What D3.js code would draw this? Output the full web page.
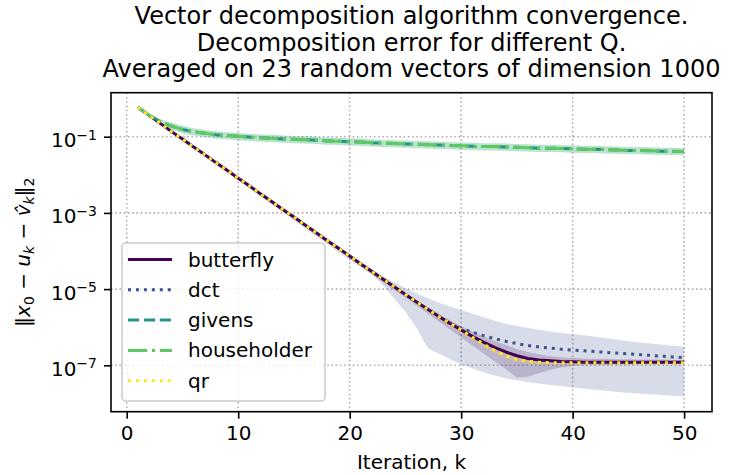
<!DOCTYPE html>
<html>
<head>
<meta charset="utf-8">
<script src="https://cdn.jsdelivr.net/npm/d3@7"></script>
<style>
body { margin:0; background:#fff; }
svg text { font-family:"DejaVu Sans"; fill:#000; }
</style>
</head>
<body>
<svg id="chart" width="733" height="475"></svg>
<script>
// iterations on the x axis
const iterations = d3.range(1, 51);

const butterflyLog = [-0.23,-0.44,-0.65,-0.86,-1.06,-1.27,-1.47,-1.68,-1.88,-2.09,
  -2.29,-2.50,-2.70,-2.91,-3.11,-3.32,-3.52,-3.73,-3.93,-4.13,
  -4.34,-4.54,-4.74,-4.94,-5.14,-5.34,-5.53,-5.72,-5.90,-6.07,
  -6.24,-6.39,-6.53,-6.65,-6.75,-6.82,-6.86,-6.88,-6.90,-6.91,
  -6.92,-6.92,-6.92,-6.92,-6.92,-6.92,-6.92,-6.92,-6.92,-6.92];
const butterflyLow = [-0.24,-0.46,-0.68,-0.89,-1.10,-1.31,-1.51,-1.72,-1.92,-2.13,
  -2.33,-2.54,-2.75,-2.95,-3.16,-3.37,-3.57,-3.78,-3.99,-4.19,
  -4.41,-4.62,-4.83,-5.03,-5.22,-5.43,-5.64,-5.85,-6.06,-6.27,
  -6.48,-6.69,-6.90,-7.10,-7.33,-7.30,-7.20,-7.12,-7.06,-7.02,
  -7.00,-6.99,-6.99,-6.98,-6.98,-6.97,-6.97,-6.97,-6.96,-6.96];
const butterflyHigh = [-0.22,-0.42,-0.63,-0.83,-1.03,-1.24,-1.44,-1.65,-1.85,-2.06,
  -2.26,-2.47,-2.67,-2.88,-3.08,-3.29,-3.49,-3.70,-3.90,-4.10,
  -4.31,-4.51,-4.71,-4.91,-5.10,-5.29,-5.47,-5.65,-5.82,-5.97,
  -6.11,-6.24,-6.36,-6.47,-6.57,-6.65,-6.71,-6.76,-6.79,-6.81,
  -6.82,-6.83,-6.83,-6.84,-6.84,-6.85,-6.85,-6.85,-6.86,-6.86];

const dctLog = [-0.23,-0.44,-0.65,-0.86,-1.06,-1.27,-1.47,-1.68,-1.88,-2.09,
  -2.29,-2.50,-2.70,-2.91,-3.11,-3.32,-3.52,-3.73,-3.93,-4.13,
  -4.34,-4.54,-4.74,-4.94,-5.14,-5.34,-5.53,-5.72,-5.90,-6.03,
  -6.13,-6.22,-6.30,-6.37,-6.43,-6.48,-6.52,-6.55,-6.58,-6.60,
  -6.62,-6.64,-6.66,-6.68,-6.70,-6.72,-6.74,-6.76,-6.78,-6.80];
const dctLow = [-0.24,-0.46,-0.68,-0.89,-1.10,-1.31,-1.51,-1.72,-1.93,-2.14,
  -2.35,-2.56,-2.77,-2.98,-3.19,-3.40,-3.61,-3.82,-4.03,-4.24,
  -4.42,-4.62,-4.90,-5.25,-5.60,-6.02,-6.55,-6.70,-6.84,-6.98,
  -7.08,-7.18,-7.27,-7.34,-7.40,-7.44,-7.48,-7.52,-7.55,-7.58,
  -7.61,-7.64,-7.67,-7.70,-7.72,-7.74,-7.76,-7.78,-7.80,-7.82];
const dctHigh = [-0.22,-0.42,-0.63,-0.83,-1.03,-1.24,-1.44,-1.65,-1.85,-2.06,
  -2.26,-2.47,-2.67,-2.88,-3.08,-3.29,-3.49,-3.69,-3.89,-4.09,
  -4.29,-4.48,-4.66,-4.82,-4.97,-5.11,-5.24,-5.36,-5.46,-5.55,
  -5.64,-5.74,-5.83,-5.91,-5.97,-6.02,-6.07,-6.11,-6.15,-6.18,
  -6.21,-6.25,-6.29,-6.33,-6.37,-6.40,-6.43,-6.46,-6.49,-6.51];

const givensLog = [-0.23,-0.43,-0.60,-0.72,-0.81,-0.87,-0.91,-0.95,-0.97,-0.99,
  -1.01,-1.03,-1.04,-1.06,-1.07,-1.08,-1.09,-1.11,-1.12,-1.13,
  -1.14,-1.16,-1.17,-1.18,-1.19,-1.20,-1.21,-1.22,-1.23,-1.24,
  -1.25,-1.26,-1.26,-1.27,-1.28,-1.29,-1.30,-1.30,-1.31,-1.32,
  -1.33,-1.33,-1.34,-1.35,-1.36,-1.36,-1.37,-1.38,-1.38,-1.39];
const givensLow = [-0.23,-0.46,-0.66,-0.81,-0.91,-0.97,-1.01,-1.05,-1.07,-1.09,
  -1.11,-1.13,-1.14,-1.16,-1.17,-1.18,-1.19,-1.21,-1.22,-1.23,
  -1.24,-1.26,-1.27,-1.28,-1.29,-1.30,-1.31,-1.32,-1.33,-1.34,
  -1.35,-1.36,-1.36,-1.37,-1.38,-1.39,-1.40,-1.40,-1.41,-1.42,
  -1.43,-1.43,-1.44,-1.45,-1.46,-1.46,-1.47,-1.48,-1.48,-1.49];
const givensHigh = [-0.23,-0.40,-0.54,-0.63,-0.71,-0.78,-0.82,-0.86,-0.88,-0.90,
  -0.92,-0.94,-0.95,-0.97,-0.98,-0.99,-1.00,-1.02,-1.03,-1.04,
  -1.05,-1.07,-1.08,-1.09,-1.10,-1.11,-1.12,-1.13,-1.14,-1.15,
  -1.16,-1.17,-1.17,-1.18,-1.19,-1.20,-1.21,-1.21,-1.22,-1.23,
  -1.24,-1.24,-1.25,-1.26,-1.27,-1.27,-1.28,-1.29,-1.29,-1.30];

const householderLog = [-0.23,-0.43,-0.60,-0.72,-0.81,-0.87,-0.91,-0.95,-0.97,-0.99,
  -1.01,-1.03,-1.04,-1.06,-1.07,-1.08,-1.09,-1.11,-1.12,-1.13,
  -1.14,-1.16,-1.17,-1.18,-1.19,-1.20,-1.21,-1.22,-1.23,-1.24,
  -1.25,-1.26,-1.26,-1.27,-1.28,-1.29,-1.30,-1.30,-1.31,-1.32,
  -1.33,-1.33,-1.34,-1.35,-1.36,-1.36,-1.37,-1.38,-1.38,-1.39];
const householderLow = [-0.23,-0.46,-0.66,-0.81,-0.91,-0.97,-1.01,-1.05,-1.07,-1.09,
  -1.11,-1.13,-1.14,-1.16,-1.17,-1.18,-1.19,-1.21,-1.22,-1.23,
  -1.24,-1.26,-1.27,-1.28,-1.29,-1.30,-1.31,-1.32,-1.33,-1.34,
  -1.35,-1.36,-1.36,-1.37,-1.38,-1.39,-1.40,-1.40,-1.41,-1.42,
  -1.43,-1.43,-1.44,-1.45,-1.46,-1.46,-1.47,-1.48,-1.48,-1.49];
const householderHigh = [-0.23,-0.40,-0.54,-0.63,-0.71,-0.78,-0.82,-0.86,-0.88,-0.90,
  -0.92,-0.94,-0.95,-0.97,-0.98,-0.99,-1.00,-1.02,-1.03,-1.04,
  -1.05,-1.07,-1.08,-1.09,-1.10,-1.11,-1.12,-1.13,-1.14,-1.15,
  -1.16,-1.17,-1.17,-1.18,-1.19,-1.20,-1.21,-1.21,-1.22,-1.23,
  -1.24,-1.24,-1.25,-1.26,-1.27,-1.27,-1.28,-1.29,-1.29,-1.30];

const qrLog = [-0.23,-0.44,-0.65,-0.86,-1.06,-1.27,-1.47,-1.68,-1.88,-2.09,
  -2.29,-2.50,-2.70,-2.91,-3.11,-3.32,-3.52,-3.73,-3.93,-4.13,
  -4.34,-4.54,-4.74,-4.94,-5.14,-5.34,-5.53,-5.72,-5.90,-6.07,
  -6.26,-6.44,-6.61,-6.75,-6.85,-6.90,-6.92,-6.93,-6.93,-6.93,
  -6.93,-6.93,-6.93,-6.93,-6.93,-6.93,-6.93,-6.93,-6.93,-6.93];
const qrLow = [-0.24,-0.46,-0.68,-0.89,-1.10,-1.31,-1.51,-1.72,-1.92,-2.13,
  -2.33,-2.54,-2.74,-2.95,-3.15,-3.36,-3.56,-3.77,-3.97,-4.18,
  -4.39,-4.59,-4.79,-4.99,-5.19,-5.39,-5.59,-5.78,-5.97,-6.15,
  -6.34,-6.52,-6.69,-6.82,-6.91,-6.96,-6.98,-6.98,-6.98,-6.98,
  -6.98,-6.98,-6.98,-6.98,-6.98,-6.98,-6.98,-6.98,-6.98,-6.98];
const qrHigh = [-0.22,-0.42,-0.63,-0.84,-1.04,-1.25,-1.45,-1.66,-1.86,-2.07,
  -2.27,-2.48,-2.68,-2.89,-3.09,-3.30,-3.50,-3.71,-3.91,-4.10,
  -4.31,-4.51,-4.71,-4.91,-5.11,-5.30,-5.49,-5.67,-5.85,-6.01,
  -6.19,-6.37,-6.54,-6.69,-6.80,-6.86,-6.88,-6.89,-6.89,-6.89,
  -6.89,-6.89,-6.89,-6.89,-6.89,-6.89,-6.89,-6.89,-6.89,-6.89];

const xTicks = [0, 10, 20, 30, 40, 50];
const yTickExps = [-1, -3, -5, -7];
const titleLines = [
  "Vector decomposition algorithm convergence.",
  "Decomposition error for different Q.",
  "Averaged on 23 random vectors of dimension 1000"
];

const series = [
  {name: "butterfly",   color: "#440154", dash: null,             mean: butterflyLog,   lo: butterflyLow,   hi: butterflyHigh},
  {name: "dct",         color: "#3b528b", dash: "3,4.95",         mean: dctLog,         lo: dctLow,         hi: dctHigh},
  {name: "givens",      color: "#21918c", dash: "11.1,4.8",       mean: givensLog,      lo: givensLow,      hi: givensHigh},
  {name: "householder", color: "#5ec962", dash: "19.2,4.8,3,4.8", mean: householderLog, lo: householderLow, hi: householderHigh},
  {name: "qr",          color: "#fde725", dash: "3,4.95",         mean: qrLog,          lo: qrLow,          hi: qrHigh}
];

const plot = {left: 111, right: 712, top: 92.7, bottom: 411.7};

const svg = d3.select("#chart");

const x = d3.scaleLinear().domain([-1.41, 52.5]).range([plot.left, plot.right]);
const y = d3.scaleLog().domain([Math.pow(10, -8.218), Math.pow(10, 0.155)]).range([plot.bottom, plot.top]);

svg.append("defs").append("clipPath").attr("id", "clip")
  .append("rect")
  .attr("x", plot.left).attr("y", plot.top)
  .attr("width", plot.right - plot.left).attr("height", plot.bottom - plot.top);

// grid
const grid = svg.append("g");
grid.selectAll(".gx").data(xTicks).join("line")
  .attr("x1", d => x(d)).attr("x2", d => x(d))
  .attr("y1", plot.top).attr("y2", plot.bottom)
  .attr("stroke", "#b0b0b0").attr("stroke-width", 1.6).attr("stroke-dasharray", "1.6,2.64");
grid.selectAll(".gy").data(yTickExps).join("line")
  .attr("y1", d => y(Math.pow(10, d))).attr("y2", d => y(Math.pow(10, d)))
  .attr("x1", plot.left).attr("x2", plot.right)
  .attr("stroke", "#b0b0b0").attr("stroke-width", 1.6).attr("stroke-dasharray", "1.6,2.64");

const body = svg.append("g").attr("clip-path", "url(#clip)");

// bands first, lines on top
series.forEach(s => {
  const area = d3.area()
    .x((d, i) => x(iterations[i]))
    .y0((d, i) => y(Math.pow(10, s.lo[i])))
    .y1((d, i) => y(Math.pow(10, s.hi[i])));
  body.append("path").datum(s.mean)
    .attr("d", area)
    .attr("fill", s.color).attr("fill-opacity", 0.2);
});

series.forEach(s => {
  const line = d3.line()
    .x((d, i) => x(iterations[i]))
    .y(d => y(Math.pow(10, d)));
  body.append("path").datum(s.mean)
    .attr("d", line)
    .attr("fill", "none")
    .attr("stroke", s.color).attr("stroke-width", 3)
    .attr("stroke-dasharray", s.dash)
    .attr("stroke-linejoin", "round");
});

// axes
const xAxis = svg.append("g")
  .attr("transform", `translate(0,${plot.bottom})`)
  .call(d3.axisBottom(x).tickValues(xTicks).tickSize(7).tickPadding(7).tickSizeOuter(0));
xAxis.select(".domain").remove();
xAxis.selectAll("line").attr("stroke", "#000").attr("stroke-width", 1.6);
xAxis.selectAll("text").attr("font-size", 20).attr("font-family", "DejaVu Sans");

const yAxis = svg.append("g")
  .attr("transform", `translate(${plot.left},0)`)
  .call(d3.axisLeft(y).tickValues(yTickExps.map(e => Math.pow(10, e))).tickSize(7).tickPadding(7));
yAxis.select(".domain").remove();
yAxis.selectAll("line").attr("stroke", "#000").attr("stroke-width", 1.6);
yAxis.selectAll("text").each(function(d) {
  const t = d3.select(this);
  const e = Math.round(Math.log10(d));
  t.text(null).attr("font-size", 20).attr("dy", "0.5em");
  t.append("tspan").text("10");
  t.append("tspan").attr("font-size", 14).attr("dy", -7.5).text("\u2212" + Math.abs(e));
});

// frame
svg.append("rect")
  .attr("x", plot.left).attr("y", plot.top)
  .attr("width", plot.right - plot.left).attr("height", plot.bottom - plot.top)
  .attr("fill", "none").attr("stroke", "#000").attr("stroke-width", 1.6);

// title
svg.append("g").selectAll("text").data(titleLines).join("text")
  .attr("x", (plot.left + plot.right) / 2)
  .attr("y", (d, i) => 24 + i * 26.7)
  .attr("text-anchor", "middle").attr("font-size", 24)
  .text(d => d);

// x label
svg.append("text")
  .attr("x", (plot.left + plot.right) / 2).attr("y", 469)
  .attr("text-anchor", "middle").attr("font-size", 20)
  .text("Iteration, k");

// y label (math text)
const yl = svg.append("text")
  .attr("transform", `translate(30,${(plot.top + plot.bottom) / 2}) rotate(-90)`)
  .attr("text-anchor", "middle").attr("font-size", 20);
const parts = [
  ["\u2016", null], ["x", "it"], ["0", "sub"], [" \u2212 ", null], ["u", "it"], ["k", "itsub"],
  [" \u2212 ", null], ["v\u0302", "it"], ["k", "itsub"], ["\u2016", null], ["2", "sub"]
];
let shifted = false;
parts.forEach(([str, kind]) => {
  const ts = yl.append("tspan").text(str);
  const isSub = kind === "sub" || kind === "itsub";
  if (kind === "it" || kind === "itsub") ts.attr("font-style", "italic");
  if (isSub) ts.attr("font-size", 14);
  if (isSub && !shifted) { ts.attr("dy", 4); shifted = true; }
  if (!isSub && shifted) { ts.attr("dy", -4); shifted = false; }
});

// legend
const lg = svg.append("g");
lg.append("rect")
  .attr("x", 122).attr("y", 243).attr("width", 203).attr("height", 158)
  .attr("rx", 4).attr("fill", "#fff").attr("fill-opacity", 0.8)
  .attr("stroke", "#cccccc").attr("stroke-width", 1.6);
series.forEach((s, i) => {
  const cy = 259.5 + i * 30.3;
  lg.append("line")
    .attr("x1", 128).attr("x2", 172).attr("y1", cy).attr("y2", cy)
    .attr("stroke", s.color).attr("stroke-width", 3)
    .attr("stroke-dasharray", s.dash);
  lg.append("text")
    .attr("x", 188).attr("y", cy + 7).attr("font-size", 20)
    .text(s.name);
});
</script>
</body>
</html>
